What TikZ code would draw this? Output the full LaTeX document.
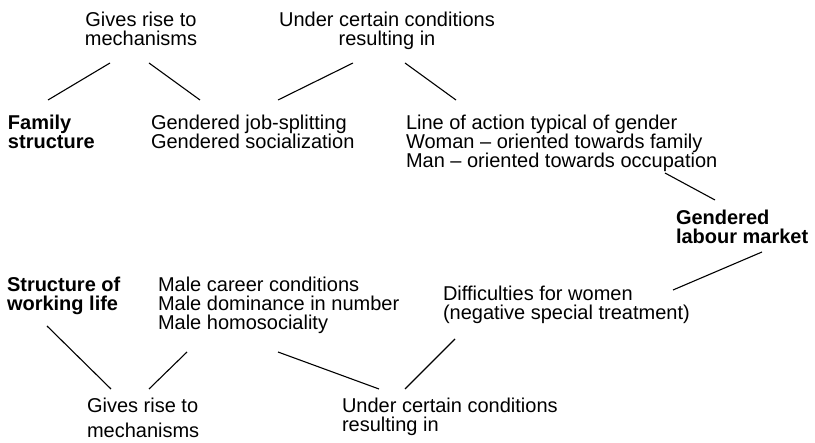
\documentclass[tikz,border=0pt]{standalone}
\usepackage{fontspec}
\setmainfont{Liberation Sans}
\begin{document}
\begin{tikzpicture}[x=1pt,y=-1pt,
  txt/.style={inner sep=0pt,outer sep=0pt,font=\fontsize{20}{19}\selectfont},
  % multi-line nodes are placed by the baseline of their last line
  ltxt/.style={txt,anchor=base west,align=left},
  ctxt/.style={txt,anchor=base,align=center},
  btxt/.style={ltxt,font=\fontsize{20}{19}\selectfont\bfseries},
  link/.style={line width=1.1pt,black}]
\useasboundingbox (0,0) rectangle (815,443);

% upper chain: family structure
\node[ctxt] (mech1) at (141,46) {Gives rise to\\mechanisms};
\node[ctxt] (cond1) at (387,46) {Under certain conditions\\resulting in};
\node[btxt] (family) at (8,149) {Family\\structure};
\node[ltxt] (jobsplit) at (151,149) {Gendered job-splitting\\Gendered socialization};
\node[ltxt] (action) at (406,168) {Line of action typical of gender\\Woman -- oriented towards family\\Man -- oriented towards occupation};
\node[btxt] (market) at (676,244) {Gendered\\labour market};

% lower chain: working life
\node[btxt] (working) at (7,311) {Structure of\\working life};
\node[ltxt] (male) at (158,330) {Male career conditions\\Male dominance in number\\Male homosociality};
\node[ltxt] (difficult) at (443,320) {Difficulties for women\\(negative special treatment)};
\node[ltxt] (mech2) at (87,438) {Gives rise to\\[6pt]mechanisms};
\node[ltxt] (cond2) at (342,432) {Under certain conditions\\resulting in};

% connector ends
\coordinate (mech1-l) at (110,63);
\coordinate (mech1-r) at (149,63);
\coordinate (family-t) at (48,100);
\coordinate (jobsplit-tl) at (200,100);
\coordinate (jobsplit-tr) at (278,100);
\coordinate (cond1-l) at (353,63);
\coordinate (cond1-r) at (405,63);
\coordinate (action-t) at (456,100);
\coordinate (action-b) at (665,173);
\coordinate (market-t) at (715,200);
\coordinate (market-b) at (762,252);
\coordinate (difficult-t) at (673,290);
\coordinate (difficult-b) at (455,339);
\coordinate (cond2-r) at (405,389);
\coordinate (cond2-l) at (379,389);
\coordinate (male-br) at (278,352);
\coordinate (male-bl) at (187,352);
\coordinate (mech2-r) at (149,389);
\coordinate (mech2-l) at (111,389);
\coordinate (working-b) at (47,326);

\draw[link] (mech1-l) -- (family-t);
\draw[link] (mech1-r) -- (jobsplit-tl);
\draw[link] (cond1-l) -- (jobsplit-tr);
\draw[link] (cond1-r) -- (action-t);
\draw[link] (action-b) -- (market-t);
\draw[link] (market-b) -- (difficult-t);
\draw[link] (difficult-b) -- (cond2-r);
\draw[link] (male-br) -- (cond2-l);
\draw[link] (male-bl) -- (mech2-r);
\draw[link] (working-b) -- (mech2-l);
\end{tikzpicture}
\end{document}
